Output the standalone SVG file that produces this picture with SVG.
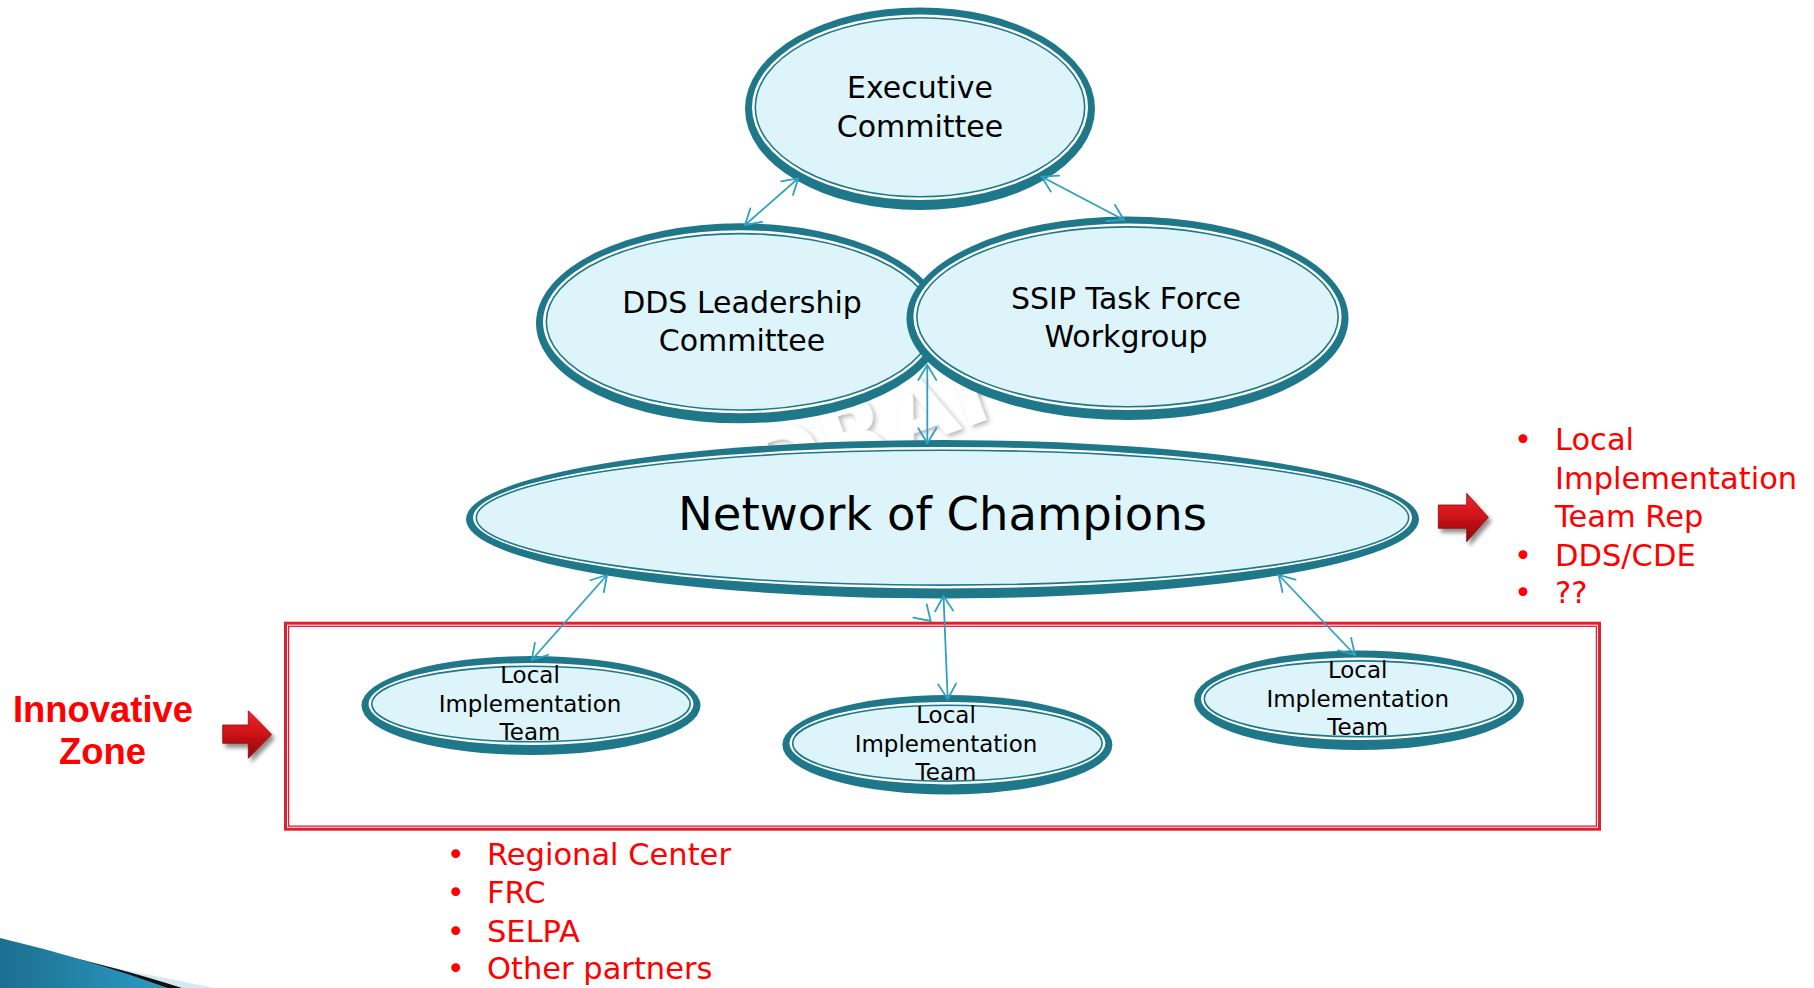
<svg xmlns="http://www.w3.org/2000/svg" width="1814" height="988" viewBox="0 0 1814 988">
<style>
.ob{fill:#1F778A}
.wg{fill:#FFFFFF}
.in{fill:#DDF4FA;stroke:#1F778A;stroke-width:1.6}
.t{font-family:"DejaVu Sans",Verdana,sans-serif;fill:#000;text-anchor:middle}
.t30{font-size:30px}
.t23{font-size:23px}
.red{font-family:"DejaVu Sans",Verdana,sans-serif;fill:#FF0000;font-size:30.5px}
.iz{font-family:"Liberation Sans",Arial,sans-serif;font-weight:bold;font-size:37px;fill:#FF0000;text-anchor:middle}
.cn{fill:none;stroke:#2EA0C2;stroke-width:1.8}
</style>
<defs>
<marker id="ah" viewBox="-17 -11 19 22" refX="0" refY="0" markerWidth="19" markerHeight="22" markerUnits="userSpaceOnUse" orient="auto-start-reverse">
<path d="M-15,-9 L0,0 L-15,9" fill="none" stroke="#2EA0C2" stroke-width="1.8" stroke-linecap="round"/>
</marker>
<linearGradient id="rg" x1="0" y1="0" x2="0" y2="1">
<stop offset="0" stop-color="#F0262B"/>
<stop offset="0.45" stop-color="#D0141A"/>
<stop offset="1" stop-color="#8E0508"/>
</linearGradient>
<linearGradient id="bg" x1="0" y1="0" x2="1" y2="0">
<stop offset="0" stop-color="#1B6F90"/>
<stop offset="1" stop-color="#2C9BC2"/>
</linearGradient>
<filter id="sh" x="-30%" y="-30%" width="160%" height="160%">
<feGaussianBlur in="SourceAlpha" stdDeviation="2"/>
<feOffset dx="3" dy="4"/>
<feComponentTransfer><feFuncA type="linear" slope="0.45"/></feComponentTransfer>
<feMerge><feMergeNode/><feMergeNode in="SourceGraphic"/></feMerge>
</filter>
<filter id="wm" x="-20%" y="-20%" width="140%" height="140%">
<feGaussianBlur in="SourceAlpha" stdDeviation="2.5"/>
<feOffset dx="2" dy="3"/>
<feComponentTransfer><feFuncA type="linear" slope="0.3"/></feComponentTransfer>
<feMerge><feMergeNode/><feMergeNode in="SourceGraphic"/></feMerge>
</filter>
</defs>
<rect width="1814" height="988" fill="#FFFFFF"/>

<text id="watermark" transform="translate(920,444) rotate(-20)" font-family="DejaVu Sans" font-weight="bold" font-size="90" fill="#FFFFFF" text-anchor="middle" filter="url(#wm)">DRAFT</text>

<g id="decor">
<path d="M60,957 L215,988 L150,988 Z" fill="#D3EAF2"/>
<path d="M40,950 Q120,968 182,988 L120,988 Z" fill="#111111"/>
<path d="M0,938 Q85,958 168,988 L0,988 Z" fill="url(#bg)"/>
</g>

<g id="innovative-box">
<rect x="285.5" y="623.2" width="1314" height="206" fill="none" stroke="#E1202F" stroke-width="3"/>
<rect x="288.6" y="626.3" width="1307.8" height="199.8" fill="none" stroke="#E1202F" stroke-width="1.3"/>
</g>

<g id="exec">
<ellipse class="ob" cx="920" cy="108.7" rx="175" ry="101.3"/>
<ellipse class="wg" cx="920" cy="107.2" rx="168" ry="92.8"/>
<ellipse class="in" cx="920" cy="107.2" rx="164.7" ry="89.5"/>
<text class="t t30" x="920" y="98.3">Executive</text>
<text class="t t30" x="920" y="136.7">Committee</text>
</g>

<g id="dds">
<ellipse class="ob" cx="740" cy="323.3" rx="204" ry="100"/>
<ellipse class="wg" cx="740" cy="321.8" rx="197" ry="91.5"/>
<ellipse class="in" cx="740" cy="321.8" rx="193.7" ry="88.2"/>
<text class="t t30" x="742" y="313">DDS Leadership</text>
<text class="t t30" x="742" y="351">Committee</text>
</g>

<g id="ssip">
<ellipse class="ob" cx="1127.5" cy="318.3" rx="221" ry="101.7"/>
<ellipse class="wg" cx="1127.5" cy="316.8" rx="214" ry="93.2"/>
<ellipse class="in" cx="1127.5" cy="316.8" rx="210.7" ry="89.9"/>
<text class="t t30" x="1126" y="309">SSIP Task Force</text>
<text class="t t30" x="1126" y="347">Workgroup</text>
</g>

<g id="network">
<ellipse class="ob" cx="942.5" cy="519.2" rx="476.5" ry="79.2"/>
<ellipse class="wg" cx="942.5" cy="517.7" rx="469.5" ry="70.7"/>
<ellipse class="in" cx="942.5" cy="517.7" rx="466.2" ry="67.4"/>
<text class="t" x="942.5" y="530" font-size="46.5">Network of Champions</text>
</g>

<g id="lit1">
<ellipse class="ob" cx="531" cy="705.5" rx="169.5" ry="49.5"/>
<ellipse class="wg" cx="531" cy="704" rx="162.5" ry="41"/>
<ellipse class="in" cx="531" cy="704" rx="159.2" ry="37.7"/>
<text class="t t23" x="530" y="683.3">Local</text>
<text class="t t23" x="530" y="711.7">Implementation</text>
<text class="t t23" x="530" y="740">Team</text>
</g>

<g id="lit2">
<ellipse class="ob" cx="947.4" cy="744.7" rx="165" ry="49.7"/>
<ellipse class="wg" cx="947.4" cy="743.2" rx="158" ry="41.2"/>
<ellipse class="in" cx="947.4" cy="743.2" rx="154.7" ry="37.9"/>
<text class="t t23" x="946" y="723.3">Local</text>
<text class="t t23" x="946" y="751.7">Implementation</text>
<text class="t t23" x="946" y="780">Team</text>
</g>

<g id="lit3">
<ellipse class="ob" cx="1359" cy="700.3" rx="165" ry="49.7"/>
<ellipse class="wg" cx="1359" cy="698.8" rx="158" ry="41.2"/>
<ellipse class="in" cx="1359" cy="698.8" rx="154.7" ry="37.9"/>
<text class="t t23" x="1357.7" y="678.3">Local</text>
<text class="t t23" x="1357.7" y="706.7">Implementation</text>
<text class="t t23" x="1357.7" y="735">Team</text>
</g>

<g id="connectors">
<line class="cn" x1="798.3" y1="178.3" x2="745" y2="225" marker-start="url(#ah)" marker-end="url(#ah)"/>
<line class="cn" x1="1041.7" y1="176.7" x2="1124" y2="220" marker-start="url(#ah)" marker-end="url(#ah)"/>
<line class="cn" x1="927.3" y1="365" x2="927.3" y2="443.3" marker-start="url(#ah)" marker-end="url(#ah)"/>
<line class="cn" x1="607" y1="575" x2="531.7" y2="660" marker-start="url(#ah)" marker-end="url(#ah)"/>
<line class="cn" x1="943.5" y1="596" x2="947.7" y2="699" marker-start="url(#ah)" marker-end="url(#ah)"/>
<line class="cn" x1="1278.7" y1="575" x2="1355" y2="655" marker-start="url(#ah)" marker-end="url(#ah)"/>
<path class="cn" d="M913.3,617.7 L930.7,621 L926.7,604.3" stroke-linecap="round"/>
</g>

<g id="arrow-left" filter="url(#sh)">
<polygon points="222.7,725 248.3,725 248.3,710.7 271.7,734.5 248.3,758.3 248.3,743.3 222.7,743.3" fill="url(#rg)" stroke="#8A0A0C" stroke-width="0.8"/>
</g>
<g id="arrow-right" filter="url(#sh)">
<polygon points="1438.3,505 1466.7,505 1466.7,493.3 1488.3,517.3 1466.7,541.7 1466.7,528.3 1438.3,528.3" fill="url(#rg)" stroke="#8A0A0C" stroke-width="0.8"/>
</g>

<g id="innovative-label">
<text class="iz" x="103" y="722" textLength="180" lengthAdjust="spacingAndGlyphs">Innovative</text>
<text class="iz" x="102.5" y="764" textLength="87" lengthAdjust="spacingAndGlyphs">Zone</text>
</g>

<g id="network-members">
<text class="red" x="1514" y="450">•</text>
<text class="red" x="1555" y="450">Local</text>
<text class="red" x="1555" y="489">Implementation</text>
<text class="red" x="1555" y="527">Team Rep</text>
<text class="red" x="1514" y="566">•</text>
<text class="red" x="1555" y="566">DDS/CDE</text>
<text class="red" x="1514" y="603">•</text>
<text class="red" x="1555" y="603">??</text>
</g>

<g id="zone-members">
<text class="red" x="446.8" y="865">•</text>
<text class="red" x="487" y="865">Regional Center</text>
<text class="red" x="446.8" y="903.3">•</text>
<text class="red" x="487" y="903.3">FRC</text>
<text class="red" x="446.8" y="941.7">•</text>
<text class="red" x="487" y="941.7">SELPA</text>
<text class="red" x="446.8" y="979">•</text>
<text class="red" x="487" y="979">Other partners</text>
</g>
</svg>
